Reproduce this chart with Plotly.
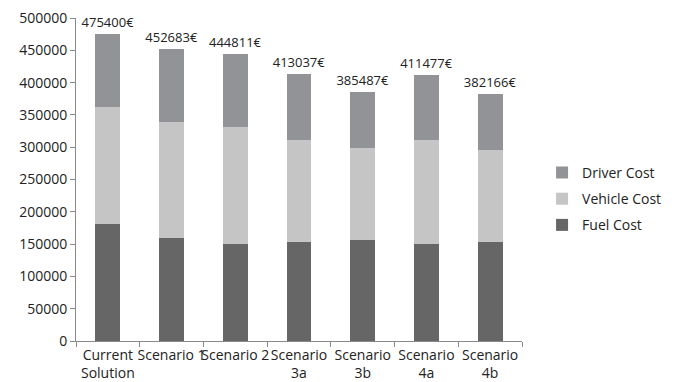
import plotly.graph_objects as go

categories = ["Current<br>Solution", "Scenario 1", "Scenario 2", "Scenario<br>3a",
              "Scenario<br>3b", "Scenario<br>4a", "Scenario<br>4b"]
totals = [475400, 452683, 444811, 413037, 385487, 411477, 382166]
fuel_cost = [181500, 158700, 150900, 152500, 157100, 150900, 154000]
vehicle_cost = [180500, 180600, 181100, 159400, 140900, 159500, 140900]
driver_cost = [t - f - v for t, f, v in zip(totals, fuel_cost, vehicle_cost)]
total_labels = [f"{t}€" for t in totals]

FONT = "Open Sans"
fig = go.Figure()
fig.add_trace(go.Bar(name="Fuel Cost", x=categories, y=fuel_cost, legendrank=3,
                     legendgroup="f",
                     marker=dict(color="#666666", line=dict(width=0))))
fig.add_trace(go.Bar(name="Vehicle Cost", x=categories, y=vehicle_cost, legendrank=2,
                     legendgroup="v",
                     marker=dict(color="#c5c5c6", line=dict(width=0))))
fig.add_trace(go.Bar(name="Driver Cost", x=categories, y=driver_cost, legendrank=1,
                     legendgroup="d",
                     marker=dict(color="#929396", line=dict(width=0)),
                     text=total_labels, textposition="outside", cliponaxis=False,
                     constraintext="none",
                     outsidetextfont=dict(family=FONT, size=13, color="#222222")))

fig.update_layout(
    width=678, height=382,
    barmode="stack", bargap=0.61,
    plot_bgcolor="white", paper_bgcolor="white",
    margin=dict(l=76, r=130, t=18, b=41),
    font=dict(family=FONT, size=14, color="#222222"),
    legend=dict(x=1.045, y=0.57, xanchor="left", yanchor="top",
                traceorder="grouped", tracegroupgap=5,
                font=dict(family=FONT, size=14, color="#222222"),
                itemwidth=30),
    showlegend=True,
)
fig.update_xaxes(showline=True, linecolor="#8a8a8a", linewidth=1,
                 ticks="outside", tickson="boundaries", ticklen=5, tickcolor="#8a8a8a",
                 showgrid=False, tickangle=0, automargin=False, ticklabelstandoff=1,
                 tickfont=dict(family=FONT, size=14, color="#222222"))
fig.update_yaxes(range=[0, 500000], dtick=50000, tickformat="d",
                 showline=True, linecolor="#8a8a8a", linewidth=1,
                 ticks="outside", ticklen=5, tickcolor="#8a8a8a",
                 showgrid=False, zeroline=False, automargin=False)

fig.write_html("out.html")
